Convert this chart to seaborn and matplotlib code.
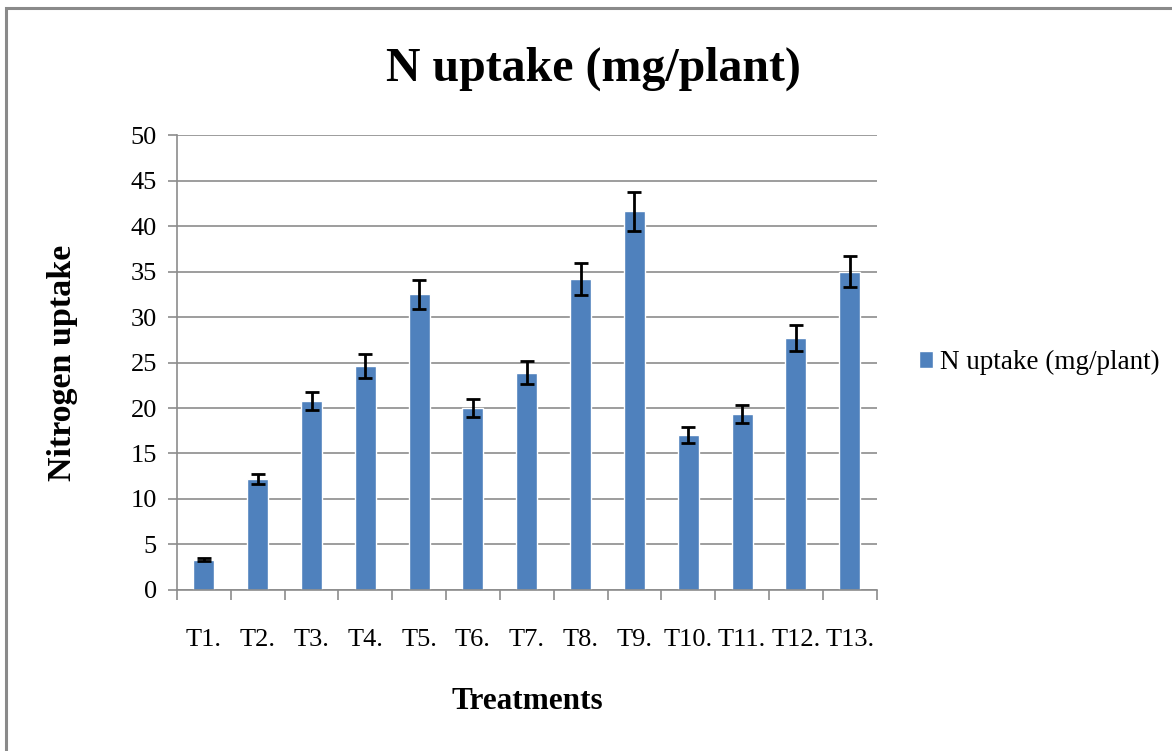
import numpy as np
import pandas as pd
import matplotlib
matplotlib.use('Agg')
import matplotlib.pyplot as plt
import seaborn as sns
from matplotlib.patches import Rectangle

# Data
treatments = ['T1.', 'T2.', 'T3.', 'T4.', 'T5.', 'T6.', 'T7.', 'T8.', 'T9.',
              'T10.', 'T11.', 'T12.', 'T13.']
n_uptake = [3.35, 12.2, 20.8, 24.6, 32.5, 20.0, 23.9, 34.2, 41.6,
            17.0, 19.3, 27.7, 35.0]
n_err = [0.15, 0.6, 1.0, 1.3, 1.6, 1.0, 1.3, 1.75, 2.1, 0.9, 1.0, 1.4, 1.7]

df = pd.DataFrame({'Treatment': treatments, 'N': n_uptake, 'err': n_err})

sns.set_style('white')
plt.rcParams['font.family'] = ['Liberation Serif', 'DejaVu Serif']
plt.rcParams['text.color'] = 'black'
plt.rcParams['axes.labelcolor'] = 'black'
plt.rcParams['xtick.color'] = 'black'
plt.rcParams['ytick.color'] = 'black'

grid_col = '#8c8c8c'
bar_col = '#4F81BD'

fig = plt.figure(figsize=(11.72, 7.51), dpi=100)
ax = fig.add_axes([0.151, 0.2144, 0.597, 0.6058])

sns.barplot(data=df, x='Treatment', y='N', color=bar_col, width=0.39,
            saturation=1, errorbar=None, ax=ax, label='N uptake (mg/plant)')
ax.errorbar(x=np.arange(len(treatments)), y=df['N'], yerr=df['err'],
            fmt='none', ecolor='black', elinewidth=2, capsize=4.8,
            capthick=2, zorder=3)

ax.set_xlim(-0.5, len(treatments) - 0.5)
ax.set_ylim(0, 50)
ax.set_yticks(range(0, 51, 5))
ax.yaxis.grid(True, color=grid_col, linewidth=1.2)
ax.set_axisbelow(True)

for s in ['top', 'right']:
    ax.spines[s].set_visible(False)
for s in ['left', 'bottom']:
    ax.spines[s].set_color(grid_col)
    ax.spines[s].set_linewidth(1.2)

# category boundary ticks on the x axis
ax.set_xticks(np.arange(-0.5, len(treatments)), minor=True)
ax.tick_params(axis='x', which='major', bottom=True, length=0, pad=28,
               labelsize=19)
ax.tick_params(axis='x', which='minor', bottom=True, length=7,
               color=grid_col, width=1.2, direction='out')
ax.tick_params(axis='y', left=True, length=6.5, color=grid_col, width=1.2,
               direction='out', labelsize=19, pad=8)

ax.set_xlabel('Treatments', fontsize=22.5, fontweight='bold', labelpad=26)
ax.set_ylabel('Nitrogen uptake', fontsize=24.5, fontweight='bold', labelpad=38)

fig.text(0.506, 0.908, 'N uptake (mg/plant)', ha='center', va='center',
         fontsize=34.5, fontweight='bold')

ax.legend(loc='center left', bbox_to_anchor=(1.025, 0.5), frameon=False,
          fontsize=19.5, handlelength=0.55, handleheight=0.55,
          handletextpad=0.25)

# outer border (left and top edges visible)
fig.patches.append(Rectangle((6 / 1172, -0.1), 1.2, 1.1 - 8 / 751,
                             transform=fig.transFigure, fill=False,
                             edgecolor='#8a8a8a', linewidth=2.2))

fig.savefig('out.png', dpi=100)
